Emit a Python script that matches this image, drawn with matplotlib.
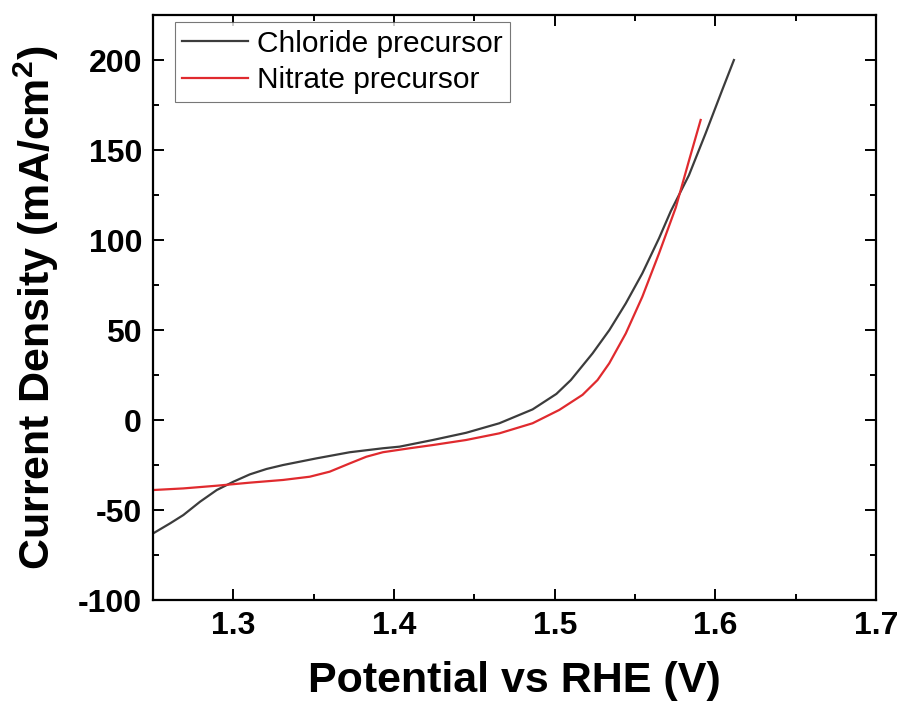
import numpy as np
import matplotlib
matplotlib.use('Agg')
import matplotlib.pyplot as plt
from matplotlib.ticker import MultipleLocator

plt.rcParams['font.family'] = 'Liberation Sans'
plt.rcParams['mathtext.fontset'] = 'custom'
plt.rcParams['mathtext.rm'] = 'Liberation Sans'
plt.rcParams['mathtext.bf'] = 'Liberation Sans:bold'
plt.rcParams['axes.unicode_minus'] = False

# chloride precursor LSV (V vs RHE, mA/cm2)
chloride_v = [1.250, 1.2606, 1.2688, 1.2792, 1.2896, 1.2999, 1.3102, 1.3206, 1.3309,
              1.3517, 1.3724, 1.393, 1.4034, 1.4241, 1.4448, 1.4655, 1.4862, 1.501,
              1.510, 1.5235, 1.5340, 1.5442, 1.5545, 1.5649, 1.5722, 1.5835, 1.5939,
              1.6042, 1.6115]
chloride_j = [-63.0, -57.4, -52.8, -45.4, -38.9, -34.3, -30.2, -27.2, -25.0,
              -21.3, -17.9, -15.7, -14.8, -11.1, -7.1, -1.8, 5.9, 14.5,
              22.2, 37.0, 50.0, 64.8, 81.5, 101.0, 116.0, 136.0, 159.3,
              183.3, 200.0]

# nitrate precursor LSV
nitrate_v = [1.250, 1.2688, 1.2896, 1.3102, 1.3309, 1.3475, 1.3599, 1.3724, 1.3827,
             1.393, 1.4096, 1.4241, 1.4448, 1.4655, 1.4862, 1.5028, 1.5173, 1.5266,
             1.5339, 1.5442, 1.5545, 1.5649, 1.5753, 1.5835, 1.5908]
nitrate_j = [-38.9, -38.0, -36.5, -34.8, -33.3, -31.5, -28.7, -24.1, -20.4,
             -17.9, -15.7, -13.9, -11.1, -7.4, -1.8, 5.6, 14.0, 22.2,
             31.5, 48.1, 68.5, 92.6, 118.0, 144.0, 166.7]

fig = plt.figure(figsize=(9.06, 7.16), dpi=100)
ax = fig.add_axes([0.169, 0.162, 0.798, 0.817])

ax.plot(chloride_v, chloride_j, color='#3c3c3c', lw=1.6, label='Chloride precursor')
ax.plot(nitrate_v, nitrate_j, color='#e02a2e', lw=1.6, label='Nitrate precursor')

ax.set_xlim(1.25, 1.7)
ax.set_ylim(-100, 225)
ax.xaxis.set_minor_locator(MultipleLocator(0.05))
ax.yaxis.set_major_locator(MultipleLocator(50))
ax.yaxis.set_minor_locator(MultipleLocator(25))
ax.set_xticks([1.3, 1.4, 1.5, 1.6, 1.7])
ax.set_xticklabels(['1.3', '1.4', '1.5', '1.6', '1.7'])

for s in ax.spines.values():
    s.set_linewidth(1.6)
ax.tick_params(which='both', direction='in', top=True, right=True, width=1.4)
ax.tick_params(which='major', length=8, labelsize=23, pad=8)
ax.tick_params(which='minor', length=4)
for lab in ax.get_xticklabels() + ax.get_yticklabels():
    lab.set_fontweight('bold')

ax.set_xlabel('Potential vs RHE (V)', fontsize=31, fontweight='bold', labelpad=14)
ax.set_ylabel(r'Current Density (mA/cm$^{\mathbf{2}}$)', fontsize=31, fontweight='bold', labelpad=12)

leg = ax.legend(loc='upper left', fontsize=21.5, frameon=True, fancybox=False,
                edgecolor='#555555', handlelength=2.2, handletextpad=0.3,
                borderpad=0.25, labelspacing=0.3, borderaxespad=0,
                bbox_to_anchor=(0.03, 0.988))
leg.get_frame().set_linewidth(0.8)

fig.savefig('out.png', dpi=100)
